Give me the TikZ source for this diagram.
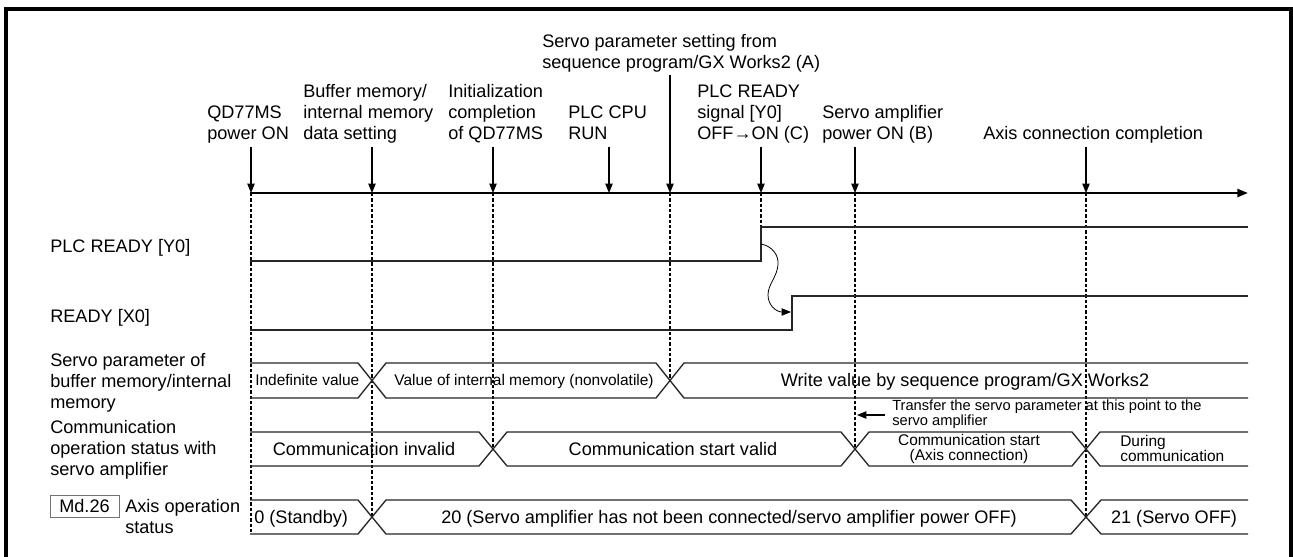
\documentclass[tikz,border=0pt]{standalone}
\usepackage{fontspec}
\setmainfont{Liberation Sans}
\usetikzlibrary{arrows.meta}
\begin{document}
\begin{tikzpicture}[x=0.75pt,y=-0.75pt,
  big/.style={font=\fontsize{13.6pt}{15.5pt}\selectfont, inner sep=0pt, align=left},
  small/.style={font=\fontsize{11.6pt}{11pt}\selectfont, inner sep=0pt, align=left},
  note/.style={font=\fontsize{11pt}{10pt}\selectfont, inner sep=0pt, align=left},
  bus/.style={draw=black!85, line width=1pt, line join=miter},
  sig/.style={draw=black!85, line width=1pt},
  dashline/.style={line width=1.3pt, dash pattern=on 2.5pt off 1.5pt},
  evarrow/.style={line width=0.8pt, -{Triangle[length=7pt,width=5.5pt]}},
  timeline/.style={line width=1.6pt, -{Triangle[length=8pt,width=6pt]}},
  mdbox/.style={draw=black!55, line width=0.6pt, fill=white, minimum width=51.75pt, minimum height=16.5pt, inner sep=0pt, font=\fontsize{13.6pt}{15.5pt}\selectfont}
]
\useasboundingbox (0,0) rectangle (1293,557);
\fill[white] (0,0) rectangle (1293,557);
% frame
\draw[line width=3.5pt] (6,620) -- (6,9) -- (1291,9) -- (1291,620);

% timeline
\coordinate (tl0) at (250,193);
\coordinate (tl1) at (1248,193);
\draw[timeline] (tl0) -- (tl1);

% events
\foreach \n/\x/\t/\b in {pw/251/147/534, buf/372/147/517, ini/493/147/449, prm/670/75/380, rdy/761/147/227, amp/855/147/449, axc/1086/147/517} {
  \coordinate (\n-top) at (\x,\t);
  \coordinate (\n-t) at (\x,193);
  \coordinate (\n-b) at (\x,\b);
  \draw[dashline] (\n-t) -- (\n-b);
  \draw[evarrow] (\n-top) -- (\n-t);
}
\coordinate (run-top) at (609,147);
\coordinate (run-t) at (609,193);
\draw[evarrow] (run-top) -- (run-t);

% top labels (base = last line)
\node[big, anchor=base west] (lpw) at (207,139) {QD77MS\\power ON};
\node[big, anchor=base west] (lbuf) at (303,139) {Buffer memory/\\internal memory\\data setting};
\node[big, anchor=base west] (lini) at (448,139) {Initialization\\completion\\of QD77MS};
\node[big, anchor=base west] (lrun) at (568,139) {PLC CPU\\RUN};
\node[big, anchor=base west] (lprm) at (542,68) {Servo parameter setting from\\sequence program/GX Works2 (A)};
\node[big, anchor=base west] (lrdy) at (697,139) {PLC READY\\signal [Y0]\\OFF→ON (C)};
\node[big, anchor=base west] (lamp) at (822,139) {Servo amplifier\\power ON (B)};
\node[big, anchor=base west] (laxc) at (983,139) {Axis connection completion};

% left labels
\node[big, anchor=base west] (sy0) at (50,252) {PLC READY [Y0]};
\node[big, anchor=base west] (sx0) at (50,322) {READY [X0]};
\node[big, anchor=base west] (sprm) at (50,408) {Servo parameter of\\buffer memory/internal\\memory};
\node[big, anchor=base west] (scom) at (50,475) {Communication\\operation status with\\servo amplifier};
\node[mdbox] (md) at (84.5,506) {Md.26};
\node[big, anchor=base west] (saxs) at (125,533) {Axis operation\\status};

% PLC READY [Y0]
\coordinate (y0a) at (250,261);
\coordinate (y0r) at (761,261);
\coordinate (y0h) at (761,227);
\coordinate (y0e) at (1248,227);
\draw[sig] (y0a) -- (y0r) -- (y0h) -- (y0e);
% READY [X0]
\coordinate (x0a) at (250,330);
\coordinate (x0r) at (792,330);
\coordinate (x0h) at (792,296);
\coordinate (x0e) at (1248,296);
\draw[sig] (x0a) -- (x0r) -- (x0h) -- (x0e);
% causal curve
\coordinate (cv0) at (761,244);
\coordinate (cv3) at (791,312);
\draw[line width=0.6pt, -{Triangle[length=7pt,width=5.5pt]}] (cv0) .. controls (772,246) and (779,255) .. (778,265)
  .. controls (777,277) and (768,284) .. (768,295)
  .. controls (768,306) and (777,312) .. (cv3);

% servo parameter bus
\draw[bus] (250,363) -- (358,363) -- (386,398) -- (656,398) -- (684,363) -- (1248,363);
\draw[bus] (250,398) -- (358,398) -- (386,363) -- (656,363) -- (684,398) -- (1248,398);
\node[small, anchor=base west] (t1) at (255,385) {Indefinite value};
\node[small, anchor=base] (t2) at (524,385) {Value of internal memory (nonvolatile)};
\node[big, anchor=base] (t3) at (965,386) {Write value by sequence program/GX Works2};

% communication bus
\draw[bus] (250,432) -- (479,432) -- (507,466) -- (841,466) -- (869,432) -- (1072,432) -- (1100,466) -- (1248,466);
\draw[bus] (250,466) -- (479,466) -- (507,432) -- (841,432) -- (869,466) -- (1072,466) -- (1100,432) -- (1248,432);
\node[big, anchor=base] (c1) at (364,455) {Communication invalid};
\node[big, anchor=base] (c2) at (673,455) {Communication start valid};
\node[small, anchor=base, align=center] (c3) at (969,460) {Communication start\\(Axis connection)};
\node[small, anchor=base west] (c4) at (1120,461) {During\\communication};

% transfer note
\node[note, anchor=base west] (nt) at (892,425) {Transfer the servo parameter at this point to the\\servo amplifier};
\coordinate (nstart) at (885,415);
\coordinate (ntip) at (857,415);
\draw[evarrow] (nstart) -- (ntip);

% axis operation status bus
\draw[bus] (250,500) -- (358,500) -- (386,534) -- (1071,534) -- (1101,500) -- (1248,500);
\draw[bus] (250,534) -- (358,534) -- (386,500) -- (1071,500) -- (1101,534) -- (1248,534);
\node[big, anchor=base west] (a1) at (254,523) {0 (Standby)};
\node[big, anchor=base] (a2) at (729,523) {20 (Servo amplifier has not been connected/servo amplifier power OFF)};
\node[big, anchor=base] (a3) at (1174,523) {21 (Servo OFF)};
\end{tikzpicture}
\end{document}
